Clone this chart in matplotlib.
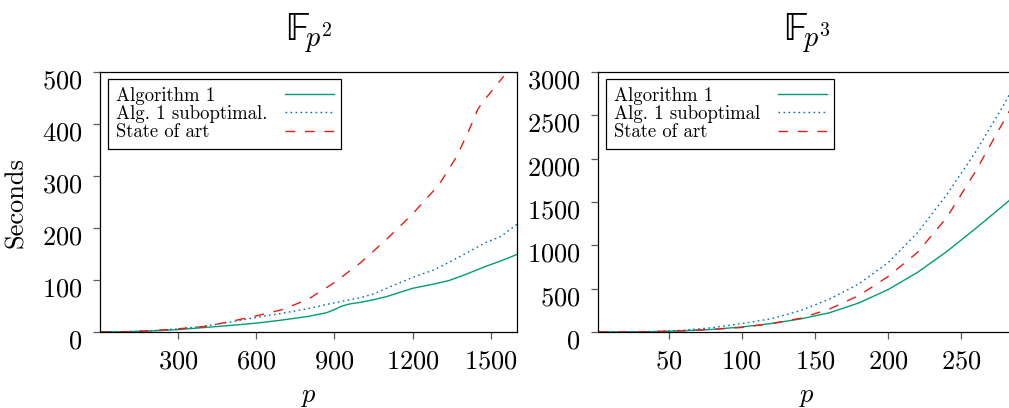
import matplotlib
matplotlib.use("Agg")
import matplotlib.pyplot as plt
from matplotlib.transforms import ScaledTranslation

plt.rcParams['font.family'] = ['cmr10']
plt.rcParams['mathtext.fontset'] = 'cm'
plt.rcParams['axes.formatter.use_mathtext'] = True

# ---- data: F_{p^2} ----
p2 = [2, 100, 200, 300, 400, 500, 600, 700, 800, 870, 900, 930, 960, 1000, 1050, 1100,
      1200, 1280, 1340, 1400, 1480, 1540, 1600]
alg1_p2 = [0, 0.5, 2, 4.5, 8.5, 12.5, 17, 23, 30, 37, 43, 50, 54, 57, 62, 68,
           84, 92, 99, 110, 126, 137, 149]
sub_p2 = [0, 0.6, 2.5, 6, 11, 19, 28, 36, 45, 53, 56, 59, 62, 66, 73, 84,
          105, 119, 134, 150, 172, 184, 207]
p2_sota = [2, 100, 200, 300, 400, 500, 600, 700, 800, 900, 1000, 1100, 1200,
           1250, 1300, 1370, 1420, 1450, 1470, 1550]
sota_p2 = [0, 0.5, 2.5, 6, 10.5, 20, 31, 43, 63, 95, 133, 178, 227,
           255, 282, 338, 392, 428, 443, 492]

# ---- data: F_{p^3} ----
p3 = [2, 20, 40, 60, 80, 100, 120, 140, 160, 180, 200, 220, 240, 260, 280, 288]
alg1_p3 = [0, 0.5, 4, 14, 30, 58, 97, 150, 222, 335, 489, 687, 927, 1197, 1477, 1593]
sub_p3 = [0, 1, 6, 20, 50, 97, 152, 246, 380, 555, 800, 1143, 1583, 2082, 2648, 2910]
sota_p3 = [0, 0.5, 4, 14, 30, 52, 96, 158, 265, 420, 640, 917, 1318, 1860, 2462, 2706]

labels_p2 = ["Algorithm 1", "Alg. 1 suboptimal.", "State of art"]
labels_p3 = ["Algorithm 1", "Alg. 1 suboptimal", "State of art"]

c_green = "#009e73"
c_blue = "#0072b2"
c_red = "#e51e10"

fig = plt.figure(figsize=(10.09, 4.08), dpi=100)
ax1 = fig.add_axes([0.0993, 0.1863, 0.4134, 0.637])
ax2 = fig.add_axes([0.593, 0.1863, 0.4133, 0.637])

def style(ax, xlim, ylim, xticks, yticks, title, legend_labels, ylabel=None):
    ax.set_xlim(*xlim)
    ax.set_ylim(*ylim)
    ax.set_xticks(xticks)
    ax.set_yticks(yticks)
    for s in ax.spines.values():
        s.set_linewidth(0.9)
    ax.tick_params(direction='out', length=5, width=0.9, color='0.35',
                   labelsize=19, top=False, right=False)
    ax.tick_params(axis='x', pad=8)
    ax.tick_params(axis='y', pad=8)
    for lab in ax.get_yticklabels():
        lab.set_transform(lab.get_transform() +
                          ScaledTranslation(0, -7 / 100, fig.dpi_scale_trans))
    ax.set_xlabel(r'$p$', fontsize=19, labelpad=8)
    if ylabel:
        ax.set_ylabel(ylabel, fontsize=19, labelpad=10)
    ax.set_title(title, fontsize=29, pad=22)
    leg = ax.legend(labels=legend_labels, loc='upper left',
                    bbox_to_anchor=(0.019, 0.973), borderaxespad=0,
                    markerfirst=False, fontsize=13.5, frameon=True,
                    fancybox=False, edgecolor='black', framealpha=1,
                    handlelength=2.6, handletextpad=0.95, labelspacing=0.02,
                    borderpad=0.4)
    leg.get_frame().set_linewidth(0.9)
    return leg

ax1.plot(p2, alg1_p2, color=c_green, lw=1.0, ls='-')
ax1.plot(p2, sub_p2, color=c_blue, lw=1.0, ls=(0, (1.2, 2.4)))
ax1.plot(p2_sota, sota_p2, color=c_red, lw=1.0, ls=(0, (7, 7)))
leg1 = style(ax1, (2, 1602), (0, 500), [300, 600, 900, 1200, 1500],
             [0, 100, 200, 300, 400, 500], '$\\mathrm{\U0001D53D}_{p^2}$', labels_p2,
             ylabel='Seconds')

ax2.plot(p3, alg1_p3, color=c_green, lw=1.0, ls='-')
ax2.plot(p3, sub_p3, color=c_blue, lw=1.0, ls=(0, (1.2, 2.4)))
ax2.plot(p3, sota_p3, color=c_red, lw=1.0, ls=(0, (7, 7)))
leg2 = style(ax2, (2, 287), (0, 3000), [50, 100, 150, 200, 250],
             [0, 500, 1000, 1500, 2000, 2500, 3000], '$\\mathrm{\U0001D53D}_{p^3}$', labels_p3)

# left-align legend texts while keeping the line samples on the right
fig.canvas.draw()
r = fig.canvas.get_renderer()
for leg in (leg1, leg2):
    texts = leg.get_texts()
    widths = [t.get_window_extent(r).width for t in texts]
    mw = max(widths)
    for t, w in zip(texts, widths):
        t.set_x(-(mw - w))

fig.savefig("out.png", dpi=100)
